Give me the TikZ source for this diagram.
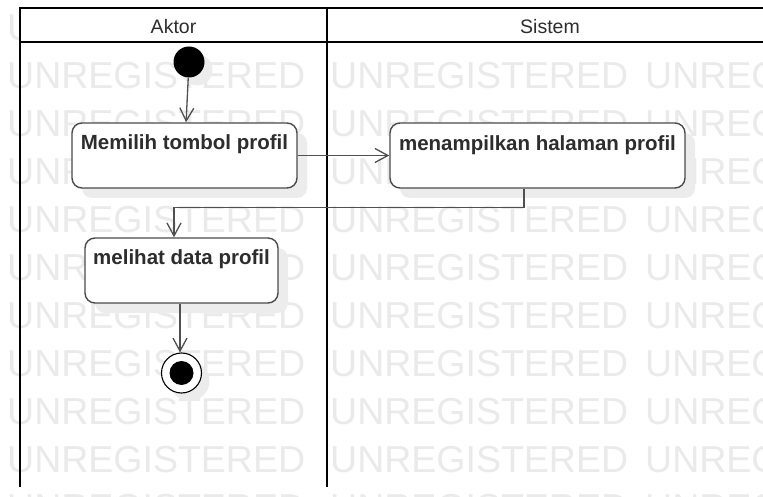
\documentclass[tikz,border=0pt]{standalone}
\usepackage{fontspec}
\setmainfont{Liberation Sans}
\usetikzlibrary{arrows.meta,shadows}
\definecolor{wmgray}{RGB}{234,234,234}
\definecolor{shadowgray}{RGB}{236,236,236}
\definecolor{boxline}{RGB}{75,75,75}
\definecolor{txt}{RGB}{45,45,45}
\definecolor{flowline}{RGB}{80,80,80}
\tikzset{
  wm/.style={text=wmgray, font=\fontsize{37.5}{40}\selectfont, anchor=base west, inner sep=0pt},
  lane/.style={draw=black, line width=2.4pt},
  lanetitle/.style={text=txt, font=\fontsize{19.5}{22}\selectfont, anchor=base, inner sep=0pt},
  actbox/.style={draw=boxline, fill=white, line width=1.4pt, rounded corners=10pt,
    inner sep=0pt, drop shadow={shadow xshift=10pt, shadow yshift=-10pt, fill=shadowgray, opacity=1}},
  boxtext/.style={text=txt, font=\bfseries\fontsize{20.5}{23}\selectfont, anchor=base, inner sep=0pt},
  flow/.style={draw=flowline, line width=1.3pt, -{Straight Barb[length=13pt,width=14pt,line width=1.3pt]}},
  startnode/.style={circle, fill=black, minimum size=31pt, inner sep=0pt,
    drop shadow={shadow xshift=8pt, shadow yshift=-8pt, fill=shadowgray, opacity=1}},
  endnode/.style={circle, draw=black, line width=1.1pt, fill=white, minimum size=40pt, inner sep=0pt,
    drop shadow={shadow xshift=8pt, shadow yshift=-8pt, fill=shadowgray, opacity=1},
    path picture={\fill[black] (path picture bounding box.center) circle (12pt);}},
}
\begin{document}
\begin{tikzpicture}[x=1pt,y=-1pt]
\useasboundingbox (0,0) rectangle (763,497);
\fill[white] (0,0) rectangle (763,497);
% watermark
\foreach \r in {0,...,10}{
  \foreach \c/\xx in {0/7,1/330,2/645}{
    \node[wm] (wm-\r-\c) at (\xx,{40.7+48*\r}) {UNREGISTERED};
  }
}
% header band
\fill[white] (21,9) rectangle (775,42);
% swimlane frame
\draw[lane] (20,487) -- (20,8) -- (775,8);
\draw[lane] (20,42) -- (775,42);
\draw[lane] (327,8) -- (327,487);
\node[lanetitle] (t1) at (173.5,34) {Aktor};
\node[lanetitle] (t2) at (550,34) {Sistem};
% nodes
\node[startnode] (start) at (189,62) {};
\node[actbox, minimum width=225pt, minimum height=65pt,
  label={[boxtext, name=l1, yshift=-27pt]north:Memilih tombol profil}] (a1) at (184.5,155.5) {};
\node[actbox, minimum width=295pt, minimum height=65pt,
  label={[boxtext, name=l2, yshift=-28pt]north:menampilkan halaman profil}] (a2) at (537.5,155.5) {};
\node[actbox, minimum width=193pt, minimum height=65pt,
  label={[boxtext, name=l3, yshift=-27pt]north:melihat data profil}] (a3) at (181.5,270.5) {};
\node[endnode] (end) at (181.5,373) {};
% connectors
\draw[flow] (start) -- (a1);
\draw[flow] (a1) -- (a2);
\draw[flow] ([xshift=-13.5pt]a2.south) -- ++(0,-19pt) -| ([xshift=-7.5pt]a3.north);
\draw[flow] ([xshift=-1.5pt]a3.south) -- ([xshift=-1.5pt]end.north);
\end{tikzpicture}
\end{document}
